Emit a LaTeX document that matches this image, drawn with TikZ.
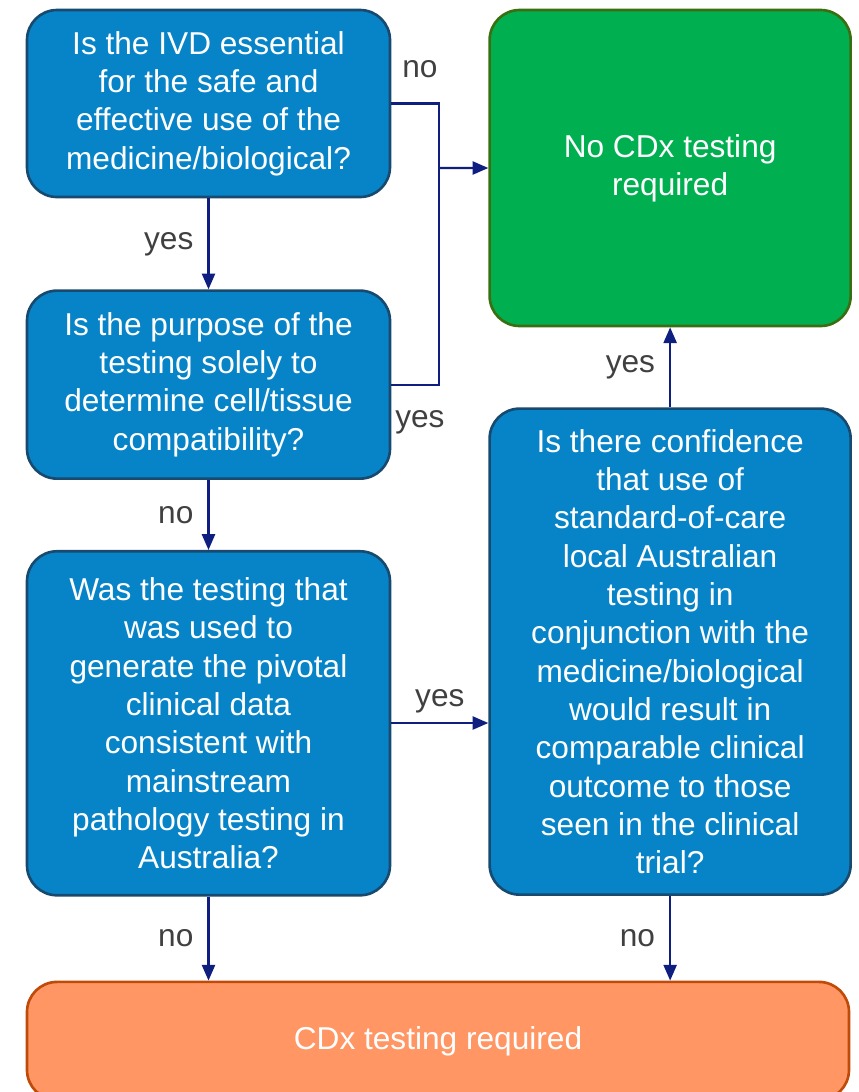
\documentclass[tikz,border=0pt]{standalone}
\usepackage{fontspec}
\setmainfont{Liberation Sans}
\usepackage{xcolor}
\usetikzlibrary{positioning,arrows.meta,calc}

\definecolor{qblue}{HTML}{0784C8}
\definecolor{qborder}{HTML}{174A6E}
\definecolor{okgreen}{HTML}{00B050}
\definecolor{okborder}{HTML}{3B6E10}
\definecolor{reqorange}{HTML}{FF9664}
\definecolor{reqborder}{HTML}{C04A08}
\definecolor{flownavy}{HTML}{0E1F80}
\definecolor{lblgray}{HTML}{404040}

\tikzset{
  qbox/.style={draw=qborder,line width=1.5pt,fill=qblue,rounded corners=0.6cm,
    text=white,align=center,minimum width=7.26cm,inner sep=0pt,
    font=\fontsize{18}{21.8}\selectfont},
  okbox/.style={qbox,draw=okborder,fill=okgreen},
  reqbox/.style={qbox,draw=reqborder,fill=reqorange},
  flow/.style={draw=flownavy,line width=1.2pt},
  flowarr/.style={flow,-{Triangle[length=9pt,width=7.5pt]}},
  lbl/.style={text=lblgray,font=\fontsize{18}{21.8}\selectfont,inner sep=0pt}
}

\begin{document}
\begin{tikzpicture}
  \useasboundingbox (0,0) rectangle (17.16,-21.84);
  % Questions on the left, top to bottom
  \node[qbox,minimum height=3.74cm] (q1) at (4.17,-2.07)
    {Is the IVD essential\\for the safe and\\effective use of the\\medicine/biological?};
  \node[qbox,minimum height=3.76cm,below=1.82cm of q1] (q2)
    {Is the purpose of the\\testing solely to\\determine cell/tissue\\compatibility?};
  \node[qbox,minimum height=6.88cm,below=1.4cm of q2] (q3)
    {Was the testing that\\was used to\\generate the pivotal\\clinical data\\consistent with\\mainstream\\pathology testing in\\Australia?};
  % Right column
  \node[okbox,minimum width=7.22cm,minimum height=6.32cm,right=1.94cm of q1.north east,anchor=north west] (done)
    {No CDx testing\\required};
  \node[qbox,minimum width=7.22cm,minimum height=9.72cm,below=1.6cm of done] (q4)
    {Is there confidence\\that use of\\standard-of-care\\local Australian\\testing in\\conjunction with the\\medicine/biological\\would result in\\comparable clinical\\outcome to those\\seen in the clinical\\trial?};
  % Bottom outcome (runs off the page)
  \node[reqbox,minimum width=16.44cm,minimum height=2.36cm,
    below=1.68cm of q3.south west,anchor=north west] (cdx) {CDx testing required};

  % Joins into the green box
  \coordinate (jn) at (8.78,-3.36);
  \draw[flow] (q1.east) -| node[lbl,pos=0.3,above=14pt] (l1) {no} (jn);
  \draw[flow] (q2.east) -| node[lbl,pos=0.3,below=14pt] (l2) {yes} (jn);
  \draw[flowarr] (jn) -- (done.west);

  % Straight arrows
  \draw[flowarr] (q1) -- node[lbl,left=8pt] (l3) {yes} (q2);
  \draw[flowarr] (q2) -- node[lbl,left=8pt] (l4) {no} (q3);
  \draw[flowarr] (q3.east |- 0,-14.46) -- node[lbl,above=5pt] (l5) {yes} (q4.west |- 0,-14.46);
  \draw[flowarr] (q4) -- node[lbl,left=8pt] (l6) {yes} (done);
  \draw[flowarr] (q3.south) -- node[lbl,left=8pt] (l7) {no} (q3.south |- cdx.north);
  \draw[flowarr] (q4.south) -- node[lbl,left=8pt] (l8) {no} (q4.south |- cdx.north);
\end{tikzpicture}
\end{document}
